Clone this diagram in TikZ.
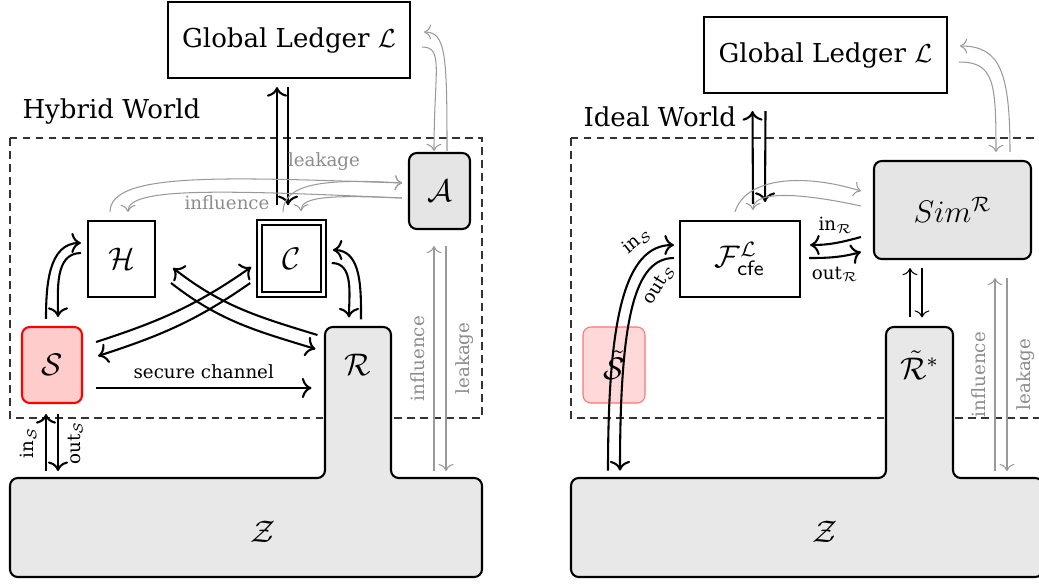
\documentclass[tikz,border=0pt]{standalone}
\usepackage{amsmath}
\usepackage{amssymb}
\usepackage{fontspec}
\setmainfont{DejaVu Serif}
\usepackage{tikz}
\usetikzlibrary{arrows.meta,calc}

\def\unitpx{0.0135cm}

\begin{document}
\begin{tikzpicture}[x=\unitpx, y=\unitpx, >={To[scale=1.1]},
    dims/.style 2 args={minimum width=#1*\unitpx, minimum height=#2*\unitpx, inner sep=0pt},
    box/.style={draw, thick},
    adv/.style={draw, thick, fill=gray!20, rounded corners=3pt},
    env/.style={draw, thick, fill=gray!18, rounded corners=3pt},
    world/.style={draw=gray!40!black, dash pattern=on 3pt off 2pt},
    flow/.style={thick, ->},
    leak/.style={gray!80, ->, line width=.4pt},
    lbl/.style={font=\fontsize{7}{8}\selectfont},
    glbl/.style={lbl, text=gray!90},
    party/.style={font=\large}]
    \useasboundingbox (0,0) rectangle (1039,-585);

    % hybrid world
    \draw[world] (10,-138) rectangle (482,-418);
    \node[anchor=west, inner sep=0pt] at (22,-111) {Hybrid World};
    \draw[env] (200,-478) -- (325,-478) -- (325,-327) -- (391,-327) -- (391,-478) -- (482,-478) -- (482,-577) -- (10,-577) -- (10,-478) -- cycle;
    \node[party] (Z) at (263,-532) {$\mathcal{Z}$};
    \node[party, dims={66}{76}] (R) at (358,-365) {$\mathcal{R}$};
    \node[box, dims={242}{76}] (ledA) at (289,-40) {Global Ledger $\mathcal{L}$};
    \node[adv, party, dims={61}{76}] (A) at (439.5,-191) {$\mathcal{A}$};
    \node[draw, semithick, double, double distance=1.4pt, party, dims={64}{72}] (C) at (291.5,-258.5) {$\mathcal{C}$};
    \node[box, party, dims={67}{76}] (H) at (121.5,-259) {$\mathcal{H}$};
    \node[draw=red, thick, fill=red!20, rounded corners=3pt, party, dims={60}{76}] (S) at (52,-365) {$\mathcal{S}$};

    \draw[flow] ($(S.north)+(-6,7)$) to[out=90,in=180] ($(H.west)+(-6,16)$);
    \draw[flow] ($(H.west)+(-6,6)$) to[out=180,in=90] ($(S.north)+(6,9)$);
    \draw[flow] ($(R.north)+(3,7)$) to[out=90,in=0] ($(C.east)+(8.5,8.5)$);
    \draw[flow] ($(C.east)+(7.5,-4.5)$) to[out=0,in=90] ($(R.north)+(-9,9)$);
    \draw[flow] ($(S.east)+(13,23)$) to[out=18,in=215] ($(C.west)+(-7.5,-8.5)$);
    \draw[flow] ($(C.west)+(-8.5,-24.5)$) to[out=215,in=18] ($(S.east)+(15,9)$);
    \draw[flow] ($(R.west)+(-7,30)$) to[out=163,in=-38] ($(H.east)+(17,-9)$);
    \draw[flow] ($(H.east)+(15,-24)$) to[out=-38,in=163] ($(R.west)+(-9,16)$);
    \draw[flow] ($(S.east)+(13,-23)$) -- node[lbl, above] {secure channel} ($(R.west)+(-13,-23)$);
    \draw[flow] ($(S.south)+(-6,-67)$) -- node[lbl, rotate=90, above] {in$_{\mathcal{S}}$} ($(S.south)+(-6,-10)$);
    \draw[flow] ($(S.south)+(6,-10)$) -- node[lbl, rotate=90, below] {out$_{\mathcal{S}}$} ($(S.south)+(6,-67)$);
    \draw[flow] ($(C.north)+(-14.5,16.5)$) -- ($(ledA.south)+(-12,-8)$);
    \draw[flow] ($(ledA.south)+(-1,-8)$) -- ($(C.north)+(-3.5,16.5)$);

    \draw[leak] ($(A.north)+(7.5,1)$) .. controls +(0,95) and +(22,0) .. ($(ledA.east)+(13,8)$);
    \draw[leak] ($(ledA.east)+(11,-7)$) .. controls +(22,0) and +(0,80) .. ($(A.north)+(-5.5,1)$);
    \draw[leak] ($(A.south)+(-5.5,-241)$) -- node[glbl, rotate=90, above] {influence} ($(A.south)+(-5.5,-16)$);
    \draw[leak] ($(A.south)+(6.5,-16)$) -- node[glbl, rotate=90, below] {leakage} ($(A.south)+(6.5,-241)$);
    \draw[leak] ($(H.north)+(-11.5,8)$) .. controls +(0,40) and +(-180,6) .. ($(A.west)+(-6,8)$);
    \draw[leak] ($(A.west)+(-6,-7)$) .. controls +(-180,8) and +(0,25) .. ($(H.north)+(6.5,8)$);
    \draw[leak] ($(C.north)+(-8.5,9.5)$) .. controls +(0,28) and +(-80,5) .. ($(A.west)+(-6,8)$);
    \draw[leak] ($(A.west)+(-6,-7)$) .. controls +(-70,3) and +(0,15) .. ($(C.north)+(9.5,10.5)$);
    \node[glbl] at (324,-162) {leakage};
    \node[glbl] at (227,-203) {influence};

    % ideal world
    \draw[world] (571,-138) rectangle (1043,-418);
    \node[anchor=west, inner sep=0pt] at (583,-117) {Ideal World};
    \draw[env] (700,-478) -- (886,-478) -- (886,-327) -- (953,-327) -- (953,-478) -- (1043,-478) -- (1043,-577) -- (571,-577) -- (571,-478) -- cycle;
    \node[party] (Zb) at (825,-532) {$\mathcal{Z}$};
    \node[party, dims={67}{76}] (Rs) at (919.5,-365) {$\tilde{\mathcal{R}}^{*}$};
    \node[box, dims={243}{76}] (ledB) at (825.5,-55) {Global Ledger $\mathcal{L}$};
    \node[adv, party, dims={157}{98}] (Sim) at (952.5,-210) {$Sim^{\mathcal{R}}$};
    \node[box, party, dims={120}{76}] (F) at (740,-259) {$\mathcal{F}^{\mathcal{L}}_{\mathsf{cfe}}$};
    \node[draw=red!55, fill=red!25, fill opacity=.6, text opacity=1, rounded corners=3pt, party, dims={62}{76}] (St) at (614,-365) {$\tilde{\mathcal{S}}$};

    \draw[flow] ($(F.north)+(13,16)$) -- ($(ledB.south)+(-73,-17)$);
    \draw[flow] ($(ledB.south)+(-60,-17)$) -- ($(F.north)+(25,18)$);
    \draw[flow] ($(Sim.west)+(-12,-27)$) to[out=195,in=0] node[lbl, above] {in$_{\mathcal{R}}$} ($(F.east)+(9,14)$);
    \draw[flow] ($(F.east)+(8,1)$) to[out=0,in=195] node[lbl, below] {out$_{\mathcal{R}}$} ($(Sim.west)+(-12,-42)$);
    \draw[flow] ($(St.south)+(-6,-67)$) .. controls +(0,150) and +(-50,0) .. node[lbl, pos=.8, auto, sloped] {in$_{\mathcal{S}}$} ($(F.west)+(-5,14)$);
    \draw[flow] ($(F.west)+(-5,1)$) .. controls +(-40,0) and +(0,150) .. node[lbl, pos=.3, auto, swap, sloped] {out$_{\mathcal{S}}$} ($(St.south)+(6,-67)$);
    \draw[->] ($(Rs.north)+(-9.5,9)$) -- ($(Sim.south)+(-42.5,-8)$);
    \draw[->] ($(Sim.south)+(-30.5,-8)$) -- ($(Rs.north)+(2.5,9)$);

    \draw[leak] ($(Sim.north)+(57.5,8)$) .. controls +(0,80) and +(40,0) .. ($(ledB.east)+(12,9)$);
    \draw[leak] ($(ledB.east)+(11,-7)$) .. controls +(35,0) and +(0,70) .. ($(Sim.north)+(43.5,8)$);
    \draw[leak] ($(Sim.south)+(42.5,-211)$) -- node[glbl, rotate=90, above] {influence} ($(Sim.south)+(42.5,-18)$);
    \draw[leak] ($(Sim.south)+(54.5,-18)$) -- node[glbl, rotate=90, below] {leakage} ($(Sim.south)+(54.5,-211)$);
    \draw[leak] ($(F.north)+(-5,8)$) .. controls +(10,33) and +(-62,19) .. ($(Sim.west)+(-12,19)$);
    \draw[leak] ($(Sim.west)+(-12,4)$) .. controls +(-55,12) and +(0,21) .. ($(F.north)+(13,10)$);
\end{tikzpicture}
\end{document}
